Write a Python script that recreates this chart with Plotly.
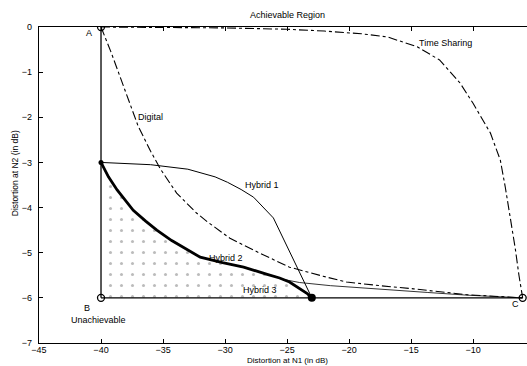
import plotly.graph_objects as go

# ---- data ----
digital_x = [-40, -39.8, -39.2, -38.6, -37.8, -37.0, -36.0, -35.2, -33.9, -32.3, -31.4, -29.6, -27.2, -24.8, -22.1, -20.2, -17.5, -14.8, -10.5, -6]
digital_y = [0, -0.13, -0.55, -1.0, -1.6, -2.2, -2.75, -3.15, -3.68, -4.12, -4.32, -4.68, -5.01, -5.32, -5.52, -5.65, -5.73, -5.80, -5.93, -6]

ts_x = [-40, -30, -25, -22, -19, -16.9, -14.5, -12.7, -11.05, -10.0, -8.6, -7.8, -7.4, -7.0, -6.6, -6.3, -6]
ts_y = [0, -0.02, -0.05, -0.09, -0.15, -0.22, -0.44, -0.73, -1.24, -1.69, -2.35, -2.95, -3.55, -4.2, -4.9, -5.5, -6]

h1_x = [-40, -36, -33, -32.0, -30.8, -29.8, -28.7, -27.7, -26.1, -23]
h1_y = [-3, -3.05, -3.15, -3.22, -3.32, -3.44, -3.6, -3.77, -4.23, -6]

h2_x = [-40, -39.4, -38.7, -37.4, -36.4, -35.5, -34.3, -33.1, -32.0, -30.2, -28.5, -26.6, -25.6, -24.8, -24.0, -23.4, -23]
h2_y = [-3, -3.32, -3.61, -4.06, -4.30, -4.50, -4.73, -4.92, -5.10, -5.22, -5.32, -5.48, -5.56, -5.65, -5.79, -5.90, -6]

h3_x = [-25.5, -24.0, -21.5, -17.5, -13.7, -10.5, -6]
h3_y = [-5.58, -5.66, -5.73, -5.80, -5.88, -5.94, -6]

ab_x = [-40, -40]
ab_y = [0, -6]
bc_x = [-40, -6]
bc_y = [-6, -6]

open_pts_x = [-40, -40, -6]
open_pts_y = [0, -6, -6]
start_x = [-40]
start_y = [-3]
end_x = [-23]
end_y = [-6]

labels = ["A", "B", "Unachievable", "C", "Digital", "Time Sharing", "Hybrid 1", "Hybrid 2", "Hybrid 3"]
label_x = [-41.0, -41.1, -40.2, -6.6, -36.0, -12.2, -27.0, -29.9, -27.2]
label_y = [-0.13, -6.22, -6.5, -6.13, -1.99, -0.36, -3.5, -5.12, -5.83]

x_ticks = [-45, -40, -35, -30, -25, -20, -15, -10]
y_ticks = [0, -1, -2, -3, -4, -5, -6, -7]

FONT = "Liberation Sans, Arial, sans-serif"

fig = go.Figure()

# dotted region between Hybrid 2 and B-C line
fig.add_trace(go.Scatter(
    x=h2_x + [-40], y=h2_y + [-6], mode="lines", fill="toself",
    line=dict(width=0), fillcolor="rgba(255,255,255,0)",
    fillpattern=dict(shape=".", size=11, solidity=0.06, fgcolor="rgba(60,60,60,0.7)", bgcolor="rgba(255,255,255,0)"),
    hoverinfo="skip", showlegend=False))

line_black = "black"
fig.add_trace(go.Scatter(x=ab_x, y=ab_y, mode="lines", line=dict(color=line_black, width=1.3), showlegend=False))
fig.add_trace(go.Scatter(x=bc_x, y=bc_y, mode="lines", line=dict(color=line_black, width=1.3), showlegend=False))
fig.add_trace(go.Scatter(x=digital_x, y=digital_y, mode="lines", line=dict(color=line_black, width=1.1, dash="dashdot"), showlegend=False))
fig.add_trace(go.Scatter(x=ts_x, y=ts_y, mode="lines", line=dict(color=line_black, width=1.1, dash="dashdot"), showlegend=False))
fig.add_trace(go.Scatter(x=h1_x, y=h1_y, mode="lines", line=dict(color=line_black, width=1.0), showlegend=False))
fig.add_trace(go.Scatter(x=h3_x, y=h3_y, mode="lines", line=dict(color=line_black, width=0.8), showlegend=False))
fig.add_trace(go.Scatter(x=h2_x, y=h2_y, mode="lines", line=dict(color=line_black, width=2.8), showlegend=False))

fig.add_trace(go.Scatter(x=open_pts_x, y=open_pts_y, mode="markers",
                         marker=dict(symbol="circle-open", size=7, color=line_black, line=dict(width=1.3)), showlegend=False))
fig.add_trace(go.Scatter(x=start_x, y=start_y, mode="markers",
                         marker=dict(symbol="circle", size=5, color=line_black), showlegend=False))
fig.add_trace(go.Scatter(x=end_x, y=end_y, mode="markers",
                         marker=dict(symbol="circle", size=8, color=line_black), showlegend=False))

for t, lx, ly in zip(labels, label_x, label_y):
    fig.add_annotation(x=lx, y=ly, text=t, showarrow=False,
                       font=dict(family=FONT, size=9, color="black"), xanchor="center", yanchor="middle")

fig.add_annotation(x=-25, y=1.0, xref="x", yref="paper", yshift=12, text="Achievable Region", showarrow=False,
                   font=dict(family=FONT, size=9, color="black"), xanchor="center", yanchor="middle")
fig.add_annotation(x=-25, y=0, xref="x", yref="paper", yshift=-22.6, text="Distortion at N1 (in dB)", showarrow=False,
                   borderpad=0, font=dict(family=FONT, size=8, color="black"), xanchor="center", yanchor="bottom")
fig.add_annotation(x=0, y=-3.24, xref="paper", yref="y", xshift=-24, text="Distortion at N2 (in dB)", showarrow=False,
                   textangle=-90, font=dict(family=FONT, size=8.5, color="black"), xanchor="center", yanchor="middle")

fig.update_xaxes(range=[-45, -5.65], tickvals=x_ticks, ticks="inside", ticklen=4, tickcolor="black",
                 showline=True, linecolor="black", linewidth=1.2, mirror="ticks", showgrid=False, zeroline=False,
                 ticklabelstandoff=-2,
                 tickfont=dict(family=FONT, size=9, color="black"))
fig.update_yaxes(range=[-7, 0], tickvals=y_ticks, ticks="inside", ticklen=4, tickcolor="black",
                 showline=True, linecolor="black", linewidth=1.2, mirror=False, showgrid=False, zeroline=False,
                 ticklabelstandoff=4,
                 tickfont=dict(family=FONT, size=9, color="black"))

fig.update_layout(width=527, height=366, margin=dict(l=39, r=0, t=27, b=23),
                  plot_bgcolor="white", paper_bgcolor="white", showlegend=False)

fig.write_html("out.html")
